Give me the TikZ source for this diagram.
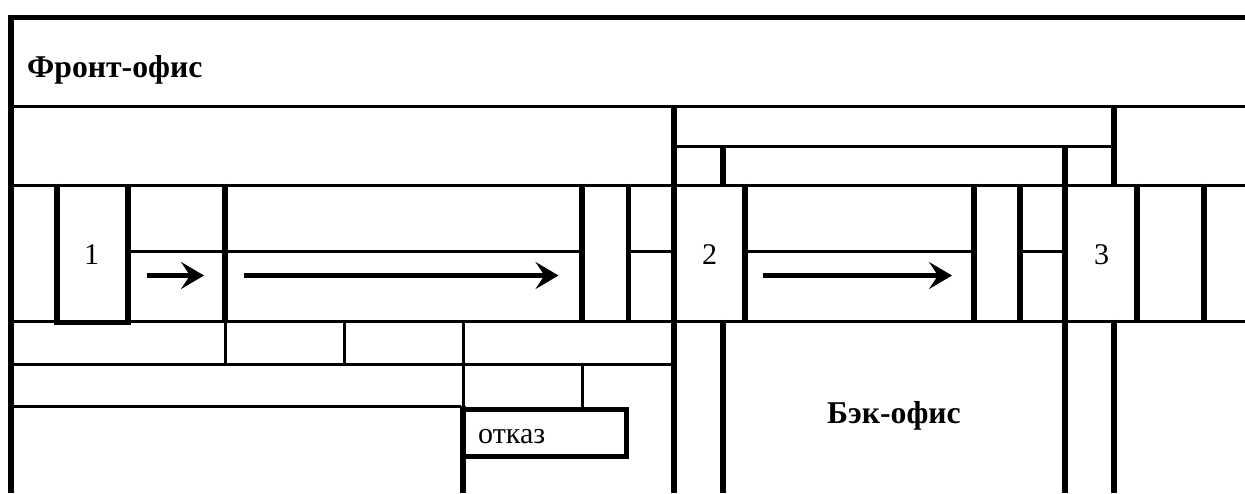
\documentclass[tikz,border=0pt]{standalone}
\usepackage{fontspec}
\setmainfont{Liberation Serif}
\usetikzlibrary{arrows.meta}
\begin{document}
\begin{tikzpicture}[x=1pt,y=-1pt,
  thickline/.style={line width=5.7pt},
  thinline/.style={line width=3pt},
  flow/.style={line width=5pt, -{Stealth[length=23pt,width=27pt,inset=9pt]}},
  titletext/.style={font=\fontsize{31.7}{36}\selectfont\bfseries, inner sep=0pt, anchor=base west},
  lbl/.style={font=\fontsize{30}{36}\selectfont, inner sep=0pt, anchor=base},
]
\useasboundingbox (0,0) rectangle (1245,493);

% thin horizontal rules
\draw[thinline] (14,106.5) -- (1245,106.5);
\draw[thinline] (677,146.5) -- (1111,146.5);
\draw[thinline] (14,185) -- (1245,185);
\draw[thinline] (131,251.5) -- (222,251.5) (228,251.5) -- (579,251.5)
  (631,251.5) -- (671,251.5) (748,251.5) -- (971,251.5) (1023,251.5) -- (1062,251.5);
\draw[thinline] (14,321) -- (1245,321);
\draw[thinline] (14,364) -- (671,364);
\draw[thinline] (14,406) -- (461,406);

% thin vertical rules
\draw[thinline] (225,321) -- (225,364);
\draw[thinline] (344,321) -- (344,364);
\draw[thinline] (463,321) -- (463,406);
\draw[thinline] (582,364) -- (582,408);

% outer border
\draw[thickline] (11,493) -- (11,14.7);
\draw[thickline] (8.2,17.5) -- (1245,17.5);

% box 1
\draw[thickline, line join=miter] (57,183.6) -- (57,322.5) -- (128,322.5) -- (128,183.6);

% thick verticals
\draw[thickline] (225,183.6) -- (225,322.5);
\draw[thickline] (582,183.6) -- (582,322.5);
\draw[thickline] (628.5,183.6) -- (628.5,322.5);
\draw[thickline] (674,105) -- (674,493);
\draw[thickline] (723,145) -- (723,186.5);
\draw[thickline] (723,319.5) -- (723,493);
\draw[thickline] (745,183.6) -- (745,322.5);
\draw[thickline] (974,183.6) -- (974,322.5);
\draw[thickline] (1020,183.6) -- (1020,322.5);
\draw[thickline] (1065,145) -- (1065,493);
\draw[thickline] (1114,105) -- (1114,186.5);
\draw[thickline] (1114,319.5) -- (1114,493);
\draw[thickline] (1137,183.6) -- (1137,322.5);
\draw[thickline] (1204,183.6) -- (1204,322.5);

% refusal box
\draw[thickline] (463,406) -- (463,493);
\draw[thickline, line join=miter] (463,409.5) rectangle (626.5,456.5);

% texts
\node[titletext] (front) at (27,77) {Фронт-офис};
\node[titletext] (back) at (827,423.3) {Бэк-офис};
\node[lbl] (n1) at (91.7,264.3) {1};
\node[lbl] (n2) at (709.5,264) {2};
\node[lbl] (n3) at (1101.5,264) {3};
\node[lbl, anchor=base west] (refuse) at (478,443.3) {отказ};

% arrows
\coordinate (a1s) at (147,275.5);
\coordinate (a1e) at (204,275.5);
\coordinate (a2s) at (243.5,275.5);
\coordinate (a2e) at (558.5,275.5);
\coordinate (a3s) at (763,275.5);
\coordinate (a3e) at (952,275.5);
\draw[flow] (a1s) -- (a1e);
\draw[flow] (a2s) -- (a2e);
\draw[flow] (a3s) -- (a3e);
\end{tikzpicture}
\end{document}
